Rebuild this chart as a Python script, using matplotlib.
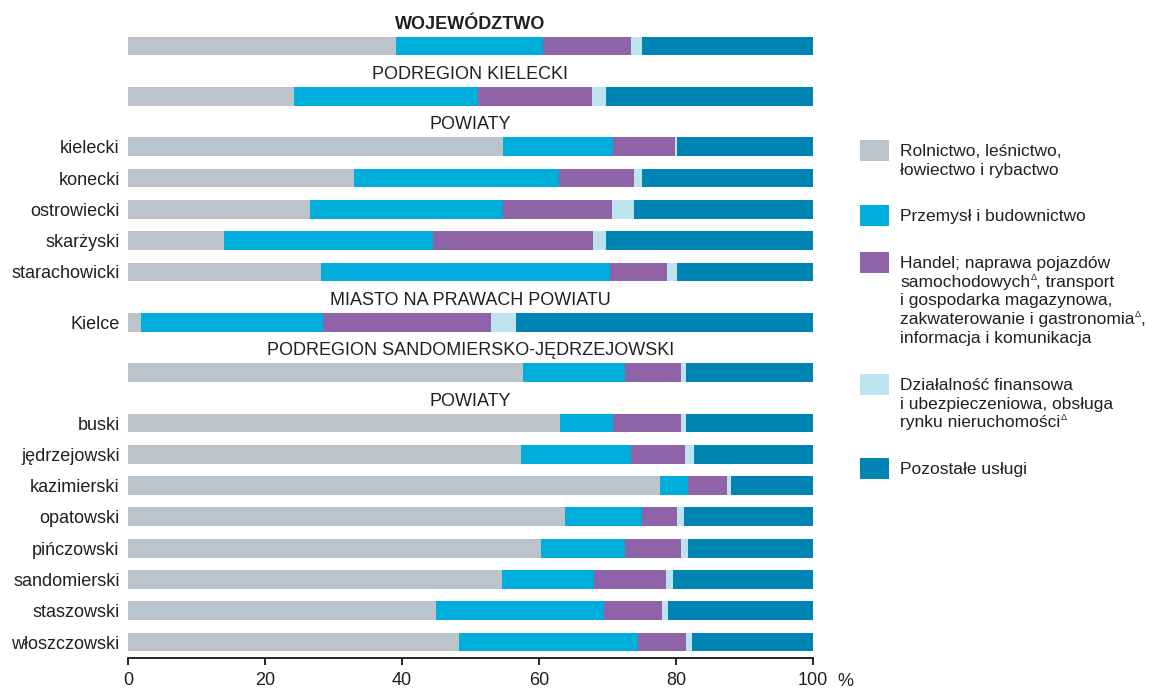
import matplotlib
matplotlib.use('Agg')
from matplotlib import pyplot as plt
from matplotlib.patches import Rectangle

plt.rcParams['font.family'] = ['Liberation Sans', 'DejaVu Sans']

# rows from top to bottom: header text (or None) shown above each bar
row_headers = ['WOJEWÓDZTWO', 'PODREGION KIELECKI', 'POWIATY', None, None, None, None,
               'MIASTO NA PRAWACH POWIATU', 'PODREGION SANDOMIERSKO-JĘDRZEJOWSKI', 'POWIATY',
               None, None, None, None, None, None, None]
row_labels = ['', '', 'kielecki', 'konecki', 'ostrowiecki', 'skarżyski', 'starachowicki',
              'Kielce', '', 'buski', 'jędrzejowski', 'kazimierski', 'opatowski', 'pińczowski',
              'sandomierski', 'staszowski', 'włoszczowski']

rolnictwo = [39.1, 24.2, 54.8, 33.0, 26.6, 14.0, 28.2, 1.9, 57.7, 63.0, 57.4, 77.7, 63.8, 60.3, 54.6, 45.0, 48.3]
przemysl  = [21.5, 26.9, 16.0, 29.9, 28.1, 30.5, 42.2, 26.6, 14.8, 7.8, 16.0, 4.1, 11.3, 12.3, 13.5, 24.5, 26.1]
handel    = [12.9, 16.6, 9.1, 10.9, 16.0, 23.4, 8.3, 24.5, 8.2, 10.0, 7.9, 5.7, 5.1, 8.1, 10.4, 8.4, 7.1]
finanse   = [1.6, 2.1, 0.3, 1.3, 3.1, 1.9, 1.4, 3.6, 0.8, 0.7, 1.3, 0.6, 0.9, 1.1, 1.1, 1.0, 0.8]
pozostale = [24.9, 30.2, 19.8, 24.9, 26.2, 30.2, 19.9, 43.4, 18.5, 18.5, 17.4, 11.9, 18.9, 18.2, 20.4, 21.1, 17.7]

series = [rolnictwo, przemysl, handel, finanse, pozostale]
colors = ['#BBC4CA', '#00AEDB', '#8E63A8', '#BDE3EE', '#0084B4']
# '^' marks the superscript delta sign of the original
legend_labels = [
    ['Rolnictwo, leśnictwo,', 'łowiectwo i rybactwo'],
    ['Przemysł i budownictwo'],
    ['Handel; naprawa pojazdów', 'samochodowych^, transport', 'i gospodarka magazynowa,',
     'zakwaterowanie i gastronomia^,', 'informacja i komunikacja'],
    ['Działalność finansowa', 'i ubezpieczeniowa, obsługa', 'rynku nieruchomości^'],
    ['Pozostałe usługi'],
]

# bar positions: one slot per bar, extra gap where a header sits
ypos = []
y = 0.0
for i, h in enumerate(row_headers):
    if i > 0:
        y += 1.0 + (0.61 if h else 0.0)
    ypos.append(y)

fig = plt.figure(figsize=(11.62, 6.89), dpi=100)
ax = fig.add_axes([128 / 1162, 31 / 689, 685 / 1162, 648 / 689])

left = [0.0] * len(ypos)
for vals, c in zip(series, colors):
    ax.barh(ypos, vals, left=left, height=0.6, color=c, linewidth=0)
    left = [l + v for l, v in zip(left, vals)]

for yy, h in zip(ypos, row_headers):
    if h:
        ax.text(50, yy - 0.7, h, ha='center', va='center', fontsize=13,
                fontweight='bold' if h == 'WOJEWÓDZTWO' else 'normal', color='#231F20')

ax.set_xlim(0, 100)
ax.set_ylim(ypos[-1] + 0.51, -1.15)
ax.set_yticks(ypos)
ax.set_yticklabels(row_labels, fontsize=13, color='#231F20')
ax.tick_params(axis='y', length=0, pad=6)
ax.set_xticks([0, 20, 40, 60, 80, 100])
ax.tick_params(axis='x', length=5, width=1.2, pad=5, labelsize=13, labelcolor='#231F20')
for s in ['top', 'right', 'left']:
    ax.spines[s].set_visible(False)
ax.spines['bottom'].set_linewidth(1.2)
ax.text(1.047, -0.036, '%', transform=ax.transAxes, ha='center', va='center',
        fontsize=13, color='#231F20')

# legend drawn by hand, positions in figure pixels from top
leg_tops = [140, 205, 252, 374, 458]
for top, c, lines in zip(leg_tops, colors, legend_labels):
    fig.add_artist(Rectangle((860 / 1162, 1 - (top + 21) / 689), 29 / 1162, 21 / 689,
                             transform=fig.transFigure, color=c, linewidth=0))
    for k, line in enumerate(lines):
        base = top + 16 + k * 18.7
        xpos = 900 / 1162
        parts = line.split('^')
        for j, part in enumerate(parts):
            t = fig.text(xpos, 1 - base / 689, part, ha='left', va='baseline', fontsize=12.5,
                         color='#231F20')
            if j < len(parts) - 1:
                fig.canvas.draw()
                bb = t.get_window_extent()
                fig.text((bb.x1 + 0.5) / 1162, 1 - (base - 7) / 689, 'Δ', ha='left',
                         va='baseline', fontsize=6.5, color='#231F20')
                xpos = (bb.x1 + 6) / 1162

plt.savefig('out.png', dpi=100)
